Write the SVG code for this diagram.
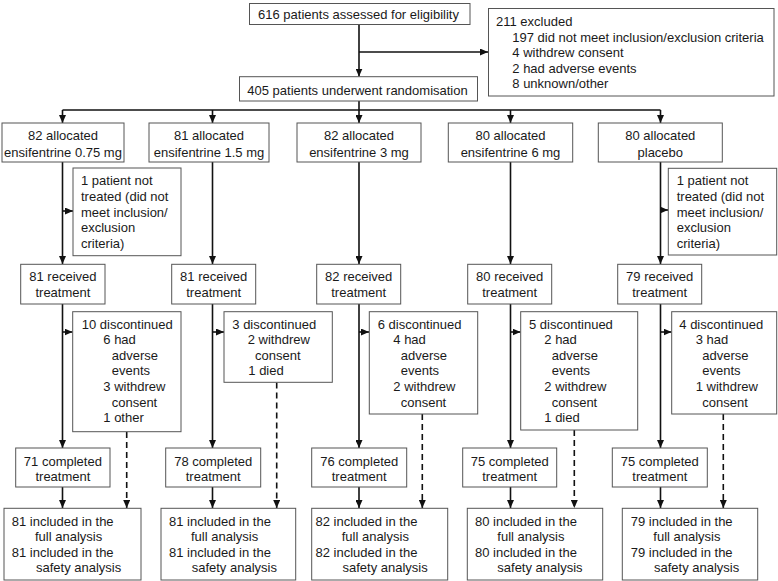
<svg xmlns="http://www.w3.org/2000/svg" width="778" height="581" viewBox="0 0 778 581">
<defs>
<marker id="ah" markerUnits="userSpaceOnUse" markerWidth="8" markerHeight="7" refX="8" refY="3.5" orient="auto">
<path d="M0,0 L8,3.5 L0,7 z" fill="#111"/>
</marker>
<style>
rect{fill:#fff;stroke:#555;stroke-width:1}
text{font-family:"Liberation Sans",Arial,sans-serif;font-size:13px;fill:#1a1a1a}
.c{text-anchor:middle}
.ln{fill:none;stroke:#111;stroke-width:1.6;marker-end:url(#ah)}
.pl{fill:none;stroke:#111;stroke-width:1.6}
.ds{fill:none;stroke:#111;stroke-width:1.6;stroke-dasharray:6 4;marker-end:url(#ah)}
</style>
</defs>
<rect x="0" y="0" width="778" height="581" style="fill:#fff;stroke:none"/>

<g id="connectors">
<path class="ln" d="M359,24.5 V76.5"/>
<path class="ln" d="M359,52 H488"/>
<path class="pl" d="M359,101 V110"/>
<path class="pl" d="M62.5,110 H660.5"/>
<path class="ln" d="M62.5,110 V123"/>
<path class="ln" d="M212.5,110 V123"/>
<path class="ln" d="M359,110 V123"/>
<path class="ln" d="M510.5,110 V123"/>
<path class="ln" d="M660.5,110 V123"/>
<!-- allocated to received -->
<path class="ln" d="M62.5,162 V264"/>
<path class="ln" d="M212.5,162 V264"/>
<path class="ln" d="M359,162 V264"/>
<path class="ln" d="M510.5,162 V264"/>
<path class="ln" d="M660.5,162 V264"/>
<path class="ln" d="M62.5,211 H73"/>
<path class="ln" d="M660.5,210 H668"/>
<!-- received to completed -->
<path class="ln" d="M62.5,304 V448"/>
<path class="ln" d="M212.5,304 V448"/>
<path class="ln" d="M359,304 V448"/>
<path class="ln" d="M510.5,304 V448"/>
<path class="ln" d="M660.5,304 V448"/>
<path class="ln" d="M62.5,332 H72.5"/>
<path class="ln" d="M212.5,332 H224"/>
<path class="ln" d="M359,332 H369"/>
<path class="ln" d="M510.5,332 H520.5"/>
<path class="ln" d="M660.5,332 H671.5"/>
<!-- completed to included -->
<path class="ln" d="M62.5,487 V508"/>
<path class="ln" d="M212.5,487 V508"/>
<path class="ln" d="M359,487 V508"/>
<path class="ln" d="M510.5,487 V508"/>
<path class="ln" d="M660.5,487 V508"/>
<!-- dashed from discontinued -->
<path class="ds" d="M126.7,432 V508"/>
<path class="ds" d="M276.7,382.5 V508"/>
<path class="ds" d="M422.3,414 V508"/>
<path class="ds" d="M574.3,430 V508"/>
<path class="ds" d="M723.3,414 V508"/>
</g>

<g id="assessed">
<rect x="249.5" y="3.5" width="220.5" height="21"/>
<text class="c" x="358.5" y="18.5">616 patients assessed for eligibility</text>
</g>
<g id="excluded">
<rect x="488.5" y="8.5" width="285.5" height="87.5"/>
<text x="496" y="26.2">211 excluded</text>
<text x="512.3" y="41.6">197 did not meet inclusion/exclusion criteria</text>
<text x="512.3" y="57">4 withdrew consent</text>
<text x="512.3" y="72.6">2 had adverse events</text>
<text x="512.3" y="88">8 unknown/other</text>
</g>
<g id="randomisation">
<rect x="239.5" y="76.7" width="238" height="24.3"/>
<text class="c" x="357.5" y="94.5">405 patients underwent randomisation</text>
</g>

<g id="alloc1">
<rect x="2" y="123" width="122" height="39"/>
<text class="c" x="63" y="140.2">82 allocated</text>
<text class="c" x="63" y="156.8">ensifentrine 0.75 mg</text>
</g>
<g id="alloc2">
<rect x="149" y="123" width="120" height="39"/>
<text class="c" x="209" y="140.2">81 allocated</text>
<text class="c" x="209" y="156.8">ensifentrine 1.5 mg</text>
</g>
<g id="alloc3">
<rect x="297" y="123" width="124" height="39"/>
<text class="c" x="359" y="140.2">82 allocated</text>
<text class="c" x="359" y="156.8">ensifentrine 3 mg</text>
</g>
<g id="alloc4">
<rect x="448.3" y="123" width="124.4" height="39"/>
<text class="c" x="510.5" y="140.2">80 allocated</text>
<text class="c" x="510.5" y="156.8">ensifentrine 6 mg</text>
</g>
<g id="alloc5">
<rect x="598.3" y="123" width="124" height="39"/>
<text class="c" x="660.3" y="140.2">80 allocated</text>
<text class="c" x="660.3" y="156.8">placebo</text>
</g>

<g id="nottreated1">
<rect x="73" y="168" width="108" height="87.7"/>
<text x="81" y="185.3">1 patient not</text>
<text x="81" y="200.9">treated (did not</text>
<text x="81" y="216.5">meet inclusion/</text>
<text x="81" y="232.1">exclusion</text>
<text x="81" y="247.7">criteria)</text>
</g>
<g id="nottreated5">
<rect x="668.3" y="168.3" width="108.4" height="86.7"/>
<text x="676.7" y="185.3">1 patient not</text>
<text x="676.7" y="200.9">treated (did not</text>
<text x="676.7" y="216.5">meet inclusion/</text>
<text x="676.7" y="232.1">exclusion</text>
<text x="676.7" y="247.7">criteria)</text>
</g>

<g id="received1">
<rect x="20.7" y="264.3" width="84.3" height="39.7"/>
<text class="c" x="62.9" y="281.2">81 received</text>
<text class="c" x="62.9" y="297.2">treatment</text>
</g>
<g id="received2">
<rect x="171.7" y="264.3" width="84" height="39.7"/>
<text class="c" x="213.7" y="281.2">81 received</text>
<text class="c" x="213.7" y="297.2">treatment</text>
</g>
<g id="received3">
<rect x="316.7" y="264.3" width="84" height="39.7"/>
<text class="c" x="358.7" y="281.2">82 received</text>
<text class="c" x="358.7" y="297.2">treatment</text>
</g>
<g id="received4">
<rect x="467.7" y="264.3" width="84" height="39.7"/>
<text class="c" x="509.7" y="281.2">80 received</text>
<text class="c" x="509.7" y="297.2">treatment</text>
</g>
<g id="received5">
<rect x="617.7" y="264.3" width="84" height="39.7"/>
<text class="c" x="659.7" y="281.2">79 received</text>
<text class="c" x="659.7" y="297.2">treatment</text>
</g>

<g id="disc1">
<rect x="72.7" y="311.7" width="108.3" height="120"/>
<text x="81.7" y="328.5">10 discontinued</text>
<text x="103.3" y="344.1">6 had</text>
<text x="111.7" y="359.7">adverse</text>
<text x="111.7" y="375.3">events</text>
<text x="103.3" y="390.9">3 withdrew</text>
<text x="111.7" y="406.5">consent</text>
<text x="103.3" y="422.1">1 other</text>
</g>
<g id="disc2">
<rect x="224" y="311.7" width="108.3" height="70.6"/>
<text x="232.3" y="328.5">3 discontinued</text>
<text x="247.7" y="344.1">2 withdrew</text>
<text x="255" y="359.7">consent</text>
<text x="248.3" y="375.3">1 died</text>
</g>
<g id="disc3">
<rect x="369.3" y="311.7" width="108.4" height="102.3"/>
<text x="377.7" y="328.5">6 discontinued</text>
<text x="393.3" y="344.1">4 had</text>
<text x="400.7" y="359.7">adverse</text>
<text x="400.7" y="375.3">events</text>
<text x="393.3" y="390.9">2 withdrew</text>
<text x="400.7" y="406.5">consent</text>
</g>
<g id="disc4">
<rect x="520.7" y="311.7" width="117" height="118.3"/>
<text x="529" y="328.5">5 discontinued</text>
<text x="544.3" y="344.1">2 had</text>
<text x="551.7" y="359.7">adverse</text>
<text x="551.7" y="375.3">events</text>
<text x="544.3" y="390.9">2 withdrew</text>
<text x="551.7" y="406.5">consent</text>
<text x="544.3" y="422.1">1 died</text>
</g>
<g id="disc5">
<rect x="671.7" y="311.7" width="105" height="102.3"/>
<text x="679.3" y="328.5">4 discontinued</text>
<text x="695.7" y="344.1">3 had</text>
<text x="702.3" y="359.7">adverse</text>
<text x="702.3" y="375.3">events</text>
<text x="695.7" y="390.9">1 withdrew</text>
<text x="702.3" y="406.5">consent</text>
</g>

<g id="completed1">
<rect x="15.7" y="448" width="94.3" height="39"/>
<text class="c" x="62.9" y="465.5">71 completed</text>
<text class="c" x="62.9" y="480.5">treatment</text>
</g>
<g id="completed2">
<rect x="165.7" y="448" width="95" height="39"/>
<text class="c" x="213.2" y="465.5">78 completed</text>
<text class="c" x="213.2" y="480.5">treatment</text>
</g>
<g id="completed3">
<rect x="311.7" y="448" width="95" height="39"/>
<text class="c" x="359.2" y="465.5">76 completed</text>
<text class="c" x="359.2" y="480.5">treatment</text>
</g>
<g id="completed4">
<rect x="462.7" y="448" width="94" height="39"/>
<text class="c" x="509.7" y="465.5">75 completed</text>
<text class="c" x="509.7" y="480.5">treatment</text>
</g>
<g id="completed5">
<rect x="612.3" y="448" width="95" height="39"/>
<text class="c" x="659.8" y="465.5">75 completed</text>
<text class="c" x="659.8" y="480.5">treatment</text>
</g>

<g id="included1">
<rect x="4" y="508.3" width="137" height="71.7"/>
<text x="11.7" y="526.2">81 included in the</text>
<text x="35" y="541.2">full analysis</text>
<text x="11.7" y="556.8">81 included in the</text>
<text x="36" y="571.8">safety analysis</text>
</g>
<g id="included2">
<rect x="161" y="508.3" width="134.7" height="71.7"/>
<text x="169" y="526.2">81 included in the</text>
<text x="191" y="541.2">full analysis</text>
<text x="169" y="556.8">81 included in the</text>
<text x="191.7" y="571.8">safety analysis</text>
</g>
<g id="included3">
<rect x="311.7" y="508.3" width="136" height="71.7"/>
<text x="315.5" y="526.2">82 included in the</text>
<text x="341.7" y="541.2">full analysis</text>
<text x="315.5" y="556.8">82 included in the</text>
<text x="342.5" y="571.8">safety analysis</text>
</g>
<g id="included4">
<rect x="467.3" y="508.3" width="135.4" height="71.7"/>
<text x="475" y="526.2">80 included in the</text>
<text x="497.3" y="541.2">full analysis</text>
<text x="475" y="556.8">80 included in the</text>
<text x="497.3" y="571.8">safety analysis</text>
</g>
<g id="included5">
<rect x="622.3" y="508.3" width="135.4" height="71.7"/>
<text x="630.7" y="526.2">79 included in the</text>
<text x="653.3" y="541.2">full analysis</text>
<text x="630.7" y="556.8">79 included in the</text>
<text x="654" y="571.8">safety analysis</text>
</g>
</svg>
